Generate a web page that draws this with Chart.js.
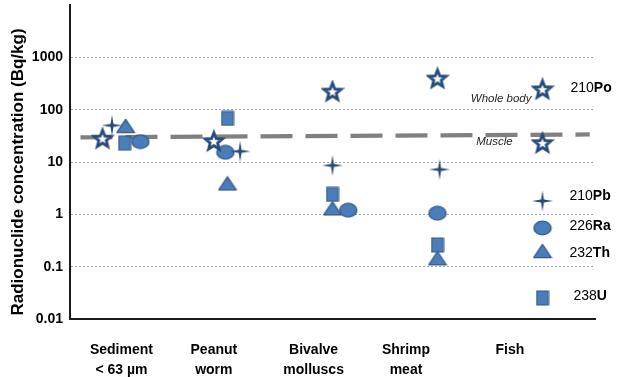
<!DOCTYPE html>
<html>
<head>
<meta charset="utf-8">
<script src="https://cdn.jsdelivr.net/npm/chart.js@4.4.1/dist/chart.umd.min.js"></script>
<style>
  html, body { margin: 0; padding: 0; background: #fff; }
  #wrap { width: 619px; height: 377px; position: relative; }
</style>
</head>
<body>
<div id="wrap"><canvas id="chart"></canvas></div>
<script>
// Sample groups along the x axis
const categories = [['Sediment', '< 63 µm'], ['Peanut', 'worm'], ['Bivalve', 'molluscs'], ['Shrimp', 'meat'], ['Fish']];

// Activity concentrations, Bq/kg (null = not measured)
const po210 = [28, 25, 222, 395, 245];      // fish value = whole body
const po210FishMuscle = 23;                  // fish muscle
const pb210 = [50, 16, 8.6, 7.2, null];
const ra226 = [24.5, 15.3, 1.2, 1.05, null];
const th232 = [49, 3.9, 1.3, 0.145, null];
const u238  = [23, 68, 2.4, 0.26, null];

// Muscle reference level (dashed line), start and end
const muscleLevel = [29.5, 33.6];

// Value-axis tick labels
const yTicks = [0.01, 0.1, 1, 10, 100, 1000];

// Horizontal nudges (fraction of a group width) so overlapping symbols stay visible
const nudge = {
  po: [-0.19, -0.13, 0, 0, 0],
  pb: [-0.10, 0.12, 0, 0.02, 0],
  ra: [0.17, -0.02, 0.15, 0, 0],
  th: [0.03, 0, 0, 0, 0],
  u:  [0.02, 0, 0, 0, 0]
};
const labelPos = [0.49, 1.37, 2.32, 3.2, 4.19];
const lineSpan = [0.1, 4.95];

const DARK = '#264a78';
const FILL = '#4a7ebb';
const EDGE = '#33598a';
const FONT = '"Liberation Sans", Arial, sans-serif';

// ---- marker images ----
function makeCanvas(w, h, draw) {
  const c = document.createElement('canvas');
  c.width = w; c.height = h;
  const g = c.getContext('2d');
  draw(g, w / 2, h / 2);
  return c;
}
const starMark = makeCanvas(24, 24, (g, cx, cy) => {
  const R = 9.0, r = 3.9;
  g.beginPath();
  for (let i = 0; i < 10; i++) {
    const a = -Math.PI / 2 + i * Math.PI / 5;
    const rad = i % 2 ? r : R;
    g.lineTo(cx + rad * Math.cos(a), cy + 0.6 + rad * Math.sin(a));
  }
  g.closePath();
  g.fillStyle = '#fff';
  g.fill();
  g.lineWidth = 2.8;
  g.lineJoin = 'miter';
  g.strokeStyle = DARK;
  g.stroke();
});
const crossStar = makeCanvas(22, 22, (g, cx, cy) => {
  const R = 10.5, r = 2.0;
  g.beginPath();
  for (let i = 0; i < 8; i++) {
    const a = -Math.PI / 2 + i * Math.PI / 4;
    const rad = i % 2 ? r : R;
    g.lineTo(cx + rad * Math.cos(a), cy + rad * Math.sin(a));
  }
  g.closePath();
  g.fillStyle = DARK;
  g.fill();
});
const ellipseMark = makeCanvas(20, 16, (g, cx, cy) => {
  g.beginPath();
  g.ellipse(cx, cy, 8.6, 6.8, 0, 0, Math.PI * 2);
  g.fillStyle = FILL; g.fill();
  g.lineWidth = 1.3; g.strokeStyle = EDGE; g.stroke();
});
const triMark = makeCanvas(20, 16, (g, cx, cy) => {
  g.beginPath();
  g.moveTo(cx, cy - 6.6);
  g.lineTo(cx + 8.8, cy + 6.6);
  g.lineTo(cx - 8.8, cy + 6.6);
  g.closePath();
  g.fillStyle = FILL; g.fill();
  g.lineWidth = 1.3; g.lineJoin = 'round'; g.strokeStyle = EDGE; g.stroke();
});
const squareMark = makeCanvas(14, 16, (g, cx, cy) => {
  g.beginPath();
  g.rect(cx - 5.8, cy - 6.8, 11.6, 13.6);
  g.fillStyle = FILL; g.fill();
  g.lineWidth = 1.3; g.strokeStyle = EDGE; g.stroke();
});

function points(values, shift) {
  const out = [];
  values.forEach((v, i) => {
    if (v !== null) out.push({ x: i + 0.5 + shift[i], y: v });
  });
  return out;
}

const poPoints = points(po210, nudge.po);
poPoints.push({ x: 4.5, y: po210FishMuscle });

function series(label, data, img) {
  return { label, data, pointStyle: img, pointRadius: 8, pointHoverRadius: 8, showLine: false };
}

// ---- legend, notes and axis title drawn on the plot ----
const legendRows = [
  { num: '210', sym: 'Pb', img: crossStar,   dy: 196, ty: 191, tx: 27 },
  { num: '226', sym: 'Ra', img: ellipseMark, dy: 223, ty: 221, tx: 27 },
  { num: '232', sym: 'Th', img: triMark,     dy: 246, ty: 248, tx: 27 },
  { num: '238', sym: 'U',  img: squareMark,  dy: 293, ty: 291, tx: 31 }
];

function isotopeLabel(ctx, num, sym, x, y) {
  ctx.textAlign = 'left';
  ctx.textBaseline = 'middle';
  ctx.font = '14px ' + FONT;
  ctx.fillText(num, x, y);
  const w = ctx.measureText(num).width;
  ctx.font = 'bold 14px ' + FONT;
  ctx.fillText(sym, x + w, y);
}

const overlay = {
  id: 'overlay',
  afterDraw(chart) {
    const { ctx, chartArea, scales: { x, y } } = chart;
    const fx = x.getPixelForValue(4.5);
    ctx.save();
    ctx.fillStyle = '#262626';
    ctx.font = 'italic 11.5px ' + FONT;
    ctx.textBaseline = 'middle';
    ctx.textAlign = 'right';
    ctx.fillText('Whole body', fx - 11, y.getPixelForValue(po210[4]) + 9);
    ctx.textAlign = 'center';
    ctx.fillText('Muscle', fx - 48, y.getPixelForValue(po210FishMuscle) - 1);

    ctx.fillStyle = '#000';
    isotopeLabel(ctx, '210', 'Po', fx + 28, y.getPixelForValue(po210[4]) - 1);
    legendRows.forEach(r => {
      const my = chartArea.top + r.dy;
      ctx.drawImage(r.img, fx - r.img.width / 2, my - r.img.height / 2);
      isotopeLabel(ctx, r.num, r.sym, fx + r.tx, chartArea.top + r.ty);
    });

    // value-axis title
    ctx.translate(18, (chartArea.top + chartArea.bottom) / 2 + 10);
    ctx.rotate(-Math.PI / 2);
    ctx.textAlign = 'center';
    ctx.font = 'bold 17px ' + FONT;
    ctx.fillText('Radionuclide concentration (Bq/kg)', 0, 0);
    ctx.restore();
  }
};

new Chart(document.getElementById('chart'), {
  type: 'scatter',
  data: {
    datasets: [
      series('210Po', poPoints, starMark),
      series('210Pb', points(pb210, nudge.pb), crossStar),
      series('226Ra', points(ra226, nudge.ra), ellipseMark),
      series('232Th', points(th232, nudge.th), triMark),
      series('238U', points(u238, nudge.u), squareMark),
      {
        label: 'Muscle',
        data: [{ x: lineSpan[0], y: muscleLevel[0] }, { x: lineSpan[1], y: muscleLevel[1] }],
        showLine: true,
        pointRadius: 0,
        borderColor: '#808080',
        borderWidth: 4.2,
        borderDash: [32, 13],
        borderCapStyle: 'butt'
      }
    ]
  },
  options: {
    responsive: true,
    maintainAspectRatio: false,
    animation: false,
    devicePixelRatio: 1,
    layout: { autoPadding: false, padding: { top: 5, right: 24, left: 0, bottom: 0 } },
    plugins: { legend: { display: false }, tooltip: { enabled: false } },
    scales: {
      x: {
        type: 'linear',
        min: 0,
        max: 5,
        afterFit: s => { s.height = 58; s.paddingLeft = 0; s.paddingRight = 0; },
        afterBuildTicks: axis => { axis.ticks = labelPos.map(v => ({ value: v })); },
        grid: { display: false, drawTicks: false },
        border: { display: true, color: '#1a1a1a', width: 2 },
        ticks: {
          autoSkip: false,
          maxRotation: 0,
          padding: 21,
          color: '#000',
          font: { family: FONT, size: 14, weight: 'bold', lineHeight: 1.43 },
          callback: (v, i) => categories[i]
        }
      },
      y: {
        type: 'logarithmic',
        min: 0.01,
        max: 10000,
        afterFit: s => { s.width = 70; s.paddingTop = 0; s.paddingBottom = 0; },
        afterBuildTicks: axis => { axis.ticks = yTicks.map(v => ({ value: v })); },
        grid: {
          drawTicks: false,
          lineWidth: 1,
          color: c => (c.tick && c.tick.value > 0.01) ? '#a0a0a0' : 'rgba(0,0,0,0)'
        },
        border: { display: true, color: '#1a1a1a', width: 2, dash: [2, 2] },
        ticks: {
          padding: 7,
          color: '#000',
          font: { family: FONT, size: 14, weight: 'bold' },
          callback: v => String(v)
        }
      }
    }
  },
  plugins: [overlay]
});
</script>
</body>
</html>
